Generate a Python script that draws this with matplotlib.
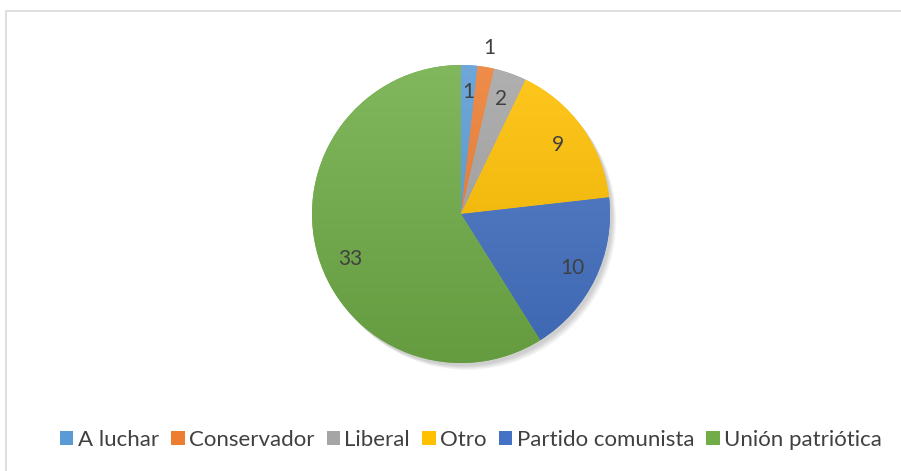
import matplotlib
matplotlib.use("Agg")
import matplotlib.pyplot as plt
import numpy as np
from matplotlib.patches import Rectangle, Circle
import matplotlib.colors as mcolors

categories = ["A luchar", "Conservador", "Liberal", "Otro", "Partido comunista", "Unión patriótica"]
values = [1, 1, 2, 9, 10, 33]

colors = ["#5B9BD5", "#ED7D31", "#A5A5A5", "#FFC000", "#4472C4", "#70AD47"]
label_r = [0.82, 1.13, 0.82, 0.80, 0.83, 0.80]
label_dang = [0, 0, 0, 0, 0, 6]

plt.rcParams['font.family'] = ['Lato', 'DejaVu Sans']
W, H = 901, 471
fig = plt.figure(figsize=(W / 100, H / 100), dpi=100)
fig.patch.set_facecolor("white")

# chart border
fig.add_artist(Rectangle((6 / W, -0.02), 1.1, (H - 11) / H + 0.02, transform=fig.transFigure,
                         fill=False, edgecolor="#d9d9d9", linewidth=1.2))

cx, cy, R = 461, 214, 149
ax = fig.add_axes([(cx - R) / W, (H - cy - R) / H, 2 * R / W, 2 * R / H])
ax.set_xlim(-1, 1)
ax.set_ylim(-1, 1)
ax.set_aspect("equal")
ax.axis("off")

# soft shadow
for i in range(8):
    ax.add_patch(Circle((0.015 + i * 0.004, -0.02 - i * 0.004), 1.0, facecolor="black",
                        alpha=0.025, edgecolor="none", zorder=1, clip_on=False))

wedges, _ = ax.pie(values, colors=colors, startangle=90, counterclock=False, radius=1.0,
                   wedgeprops=dict(linewidth=0, edgecolor="none"))

# gradient overlay (lighter on top)
grad = np.linspace(0, 1, 256).reshape(-1, 1)
for w, c in zip(wedges, colors):
    base = np.array(mcolors.to_rgb(c))
    top = base + (1 - base) * 0.12
    bot = base * 0.90
    img = top[None, None, :] * (1 - grad[:, :, None]) + bot[None, None, :] * grad[:, :, None]
    im = ax.imshow(img, extent=(-1, 1, -1, 1), origin="upper", zorder=3, aspect="auto")
    w.set_zorder(2)
    im.set_clip_path(w)

total = sum(values)
ang = 90.0
for v, r, da in zip(values, label_r, label_dang):
    span = 360.0 * v / total
    mid = np.deg2rad(ang - span / 2 + da)
    ax.text(r * np.cos(mid), r * np.sin(mid), str(v), ha="center", va="center",
            fontsize=15, color="#404040", zorder=5, clip_on=False)
    ang -= span

ax.set_xlim(-1, 1)
ax.set_ylim(-1, 1)

handles = [Rectangle((0, 0), 1, 1, facecolor=c, edgecolor="none") for c in colors]
leg = fig.legend(handles, categories, loc="center", bbox_to_anchor=(471 / W, 1 - 440 / H),
                 ncol=6, frameon=False, fontsize=16, handlelength=0.6, handleheight=0.6,
                 handletextpad=0.2, columnspacing=0.55, labelcolor="#404040")

fig.savefig("out.png", dpi=100, facecolor="white")
